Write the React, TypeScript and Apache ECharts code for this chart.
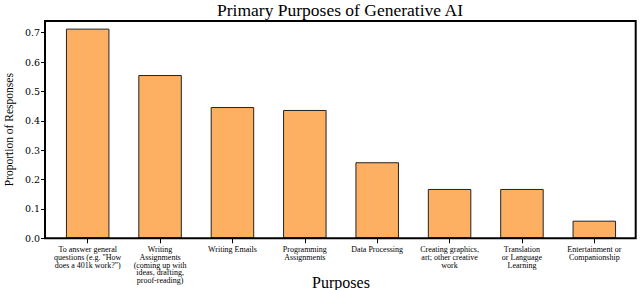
import React, { useEffect, useRef } from "react";
import * as echarts from "echarts";

const categories = [
  "To answer general\nquestions (e.g. \"How\ndoes a 401k work?\")",
  "Writing\nAssignments\n(coming up with\nideas, drafting,\nproof-reading)",
  "Writing Emails",
  "Programming\nAssignments",
  "Data Processing",
  "Creating graphics,\nart; other creative\nwork",
  "Translation\nor Language\nLearning",
  "Entertainment or\nCompanionship",
];
const proportions = [0.714, 0.556, 0.447, 0.437, 0.259, 0.168, 0.168, 0.06];
const yTicks = [0, 0.1, 0.2, 0.3, 0.4, 0.5, 0.6, 0.7];

export default function App() {
  const ref = useRef<HTMLDivElement>(null);
  useEffect(() => {
    const chart = echarts.init(ref.current!, null, { renderer: "svg" });
    const serif = "Liberation Serif";
    chart.setOption({
      animation: false,
      title: {
        text: "Primary Purposes of Generative AI",
        left: 340,
        top: 1,
        padding: 0,
        textAlign: "center",
        textStyle: { fontFamily: serif, fontSize: 17.5, fontWeight: "normal", color: "#000" },
      },
      grid: {
        left: 51.5,
        right: 9.5,
        top: 21,
        bottom: 51.7,
        containLabel: false,
        outerBoundsMode: "none",
      },
      xAxis: {
        type: "category",
        data: categories,
        name: "Purposes",
        nameLocation: "middle",
        nameGap: 36,
        nameMoveOverlap: false,
        nameTextStyle: { fontFamily: serif, fontSize: 16, color: "#000" },
        axisLine: { show: false },
        axisTick: { show: true, alignWithLabel: true, length: 5, lineStyle: { color: "#000", width: 1 } },
        axisLabel: {
          interval: 0,
          margin: 7,
          fontFamily: serif,
          fontSize: 8,
          lineHeight: 7.9,
          color: "#000",
          align: "center",
        },
      },
      yAxis: {
        type: "value",
        min: 0,
        max: 0.74,
        offset: 6.5,
        name: "Proportion of Responses",
        nameLocation: "middle",
        nameGap: 30,
        nameMoveOverlap: false,
        nameTextStyle: { fontFamily: serif, fontSize: 11.5, color: "#000" },
        splitLine: { show: false },
        axisLine: { show: false },
        axisTick: { show: true, length: 4, customValues: yTicks, lineStyle: { color: "#000", width: 1 } },
        axisLabel: {
          customValues: yTicks,
          margin: 5,
          fontFamily: "DejaVu Serif",
          fontSize: 9.5,
          color: "#000",
          formatter: (v: number) => v.toFixed(1),
        },
      },
      series: [
        {
          type: "bar",
          data: proportions,
          barWidth: 43.5,
          itemStyle: { color: "#FDB062", borderColor: "#222", borderWidth: 1 },
        },
      ],
      graphic: [
        {
          type: "rect",
          z: 100,
          shape: { x: 45, y: 21, width: 590.7, height: 217.3 },
          style: { fill: "none", stroke: "#000", lineWidth: 2 },
        },
      ],
    });
    return () => chart.dispose();
  }, []);
  return <div ref={ref} style={{ width: 640, height: 290, position: "absolute", left: 0, top: 0 }} />;
}
